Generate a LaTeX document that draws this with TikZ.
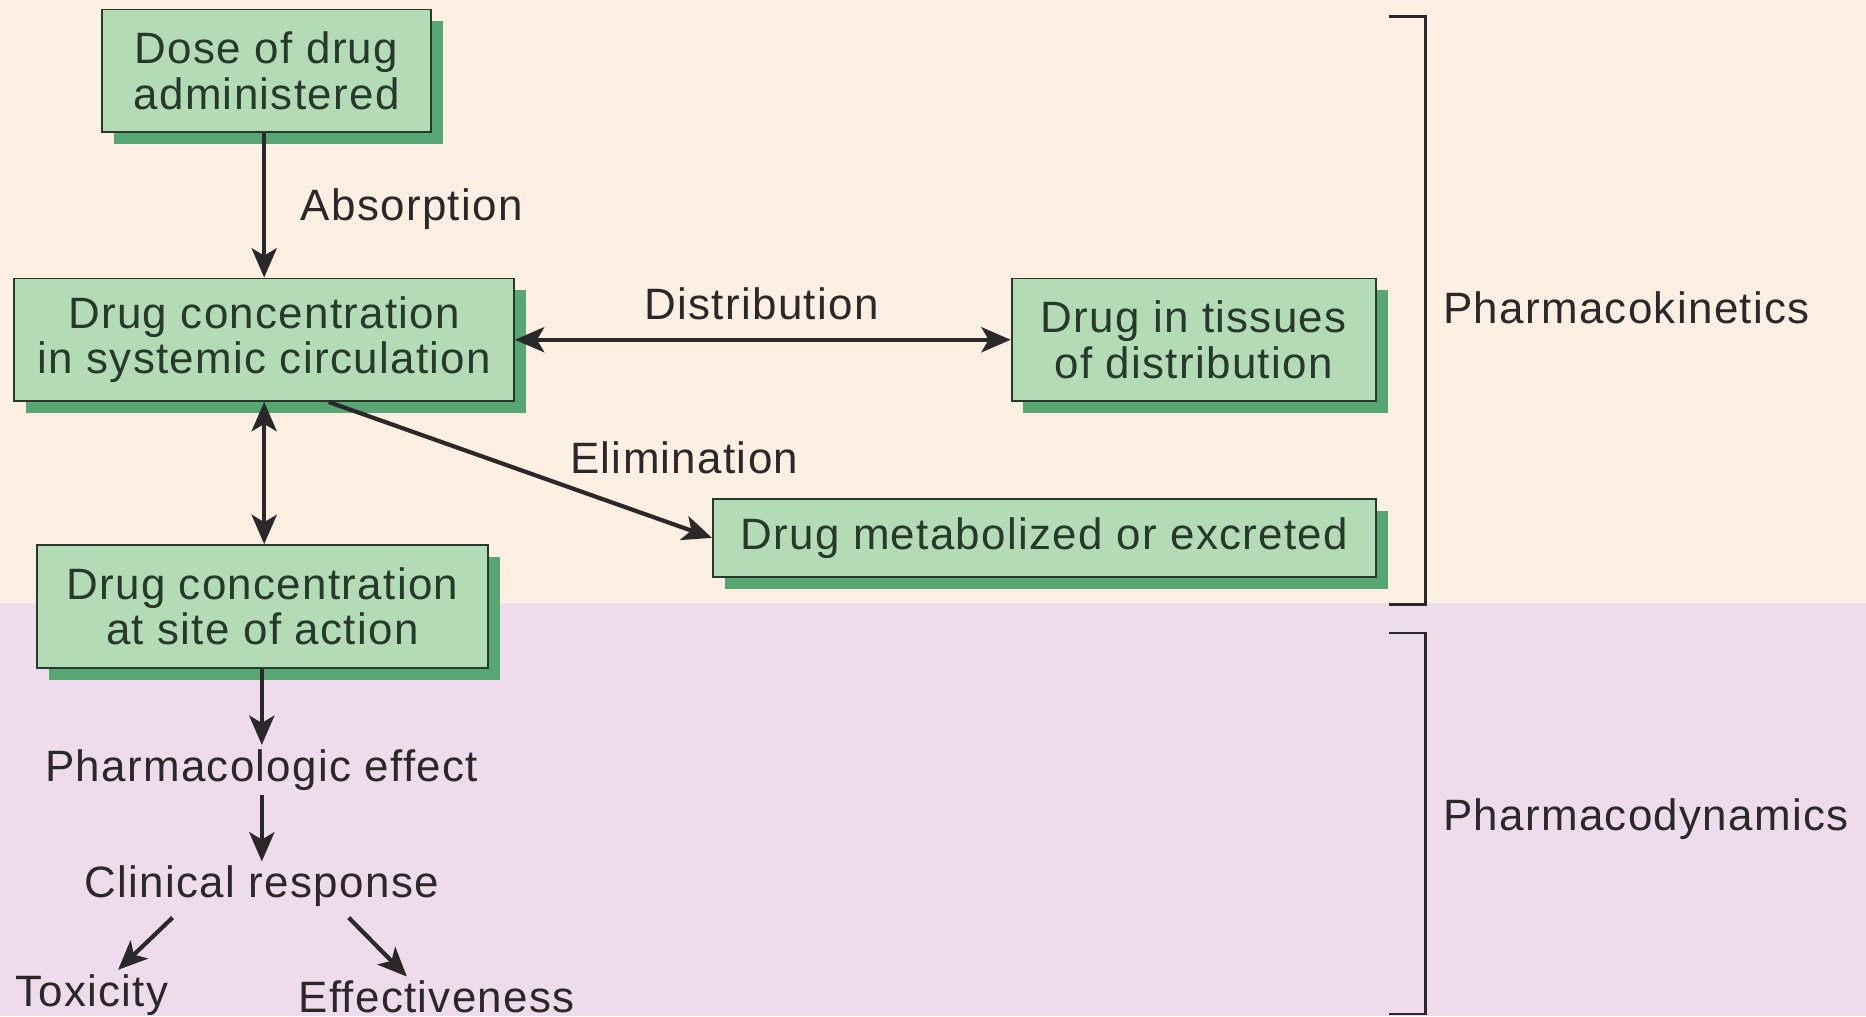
\documentclass[tikz,border=0pt]{standalone}
\usepackage{fontspec}
\setmainfont[LetterSpace=3]{Liberation Sans}
\usetikzlibrary{arrows.meta,shadows}

\definecolor{peach}{HTML}{FDEFE1}
\definecolor{lilac}{HTML}{EEDCEC}
\definecolor{boxgreen}{HTML}{B3DCB6}
\definecolor{shadowgreen}{HTML}{57A674}
\definecolor{edgegreen}{HTML}{27392B}
\definecolor{inkgray}{HTML}{2A2828}

\newcommand{\diagfont}{\fontsize{21}{21.6}\selectfont}

\tikzset{
  stage/.style={draw=edgegreen, line width=0.9pt, fill=boxgreen, align=center,
    inner sep=0pt, text=edgegreen, font=\diagfont,
    general shadow={fill=shadowgreen, shadow xshift=0.2cm, shadow yshift=-0.2cm}},
  lbl/.style={text=inkgray, font=\diagfont, inner sep=2pt},
  flow/.style={-{Stealth[length=14pt,width=12pt,inset=3.5pt]}, line width=2pt, draw=inkgray},
  twoway/.style={{Stealth[length=14pt,width=12pt,inset=3.5pt]}-{Stealth[length=14pt,width=12pt,inset=3.5pt]},
    line width=2pt, draw=inkgray},
  brace/.style={line width=1.2pt, draw=inkgray}
}

\begin{document}
\begin{tikzpicture}[x=0.02cm,y=-0.02cm]
\useasboundingbox (0,0) rectangle (1568,854);
\fill[peach] (0,0) rectangle (1568,507);
\fill[lilac] (0,507) rectangle (1568,854);

% boxes
\node[stage, minimum width=5.52cm, minimum height=2.06cm] (dose) at (224,59.5) {Dose of drug\\administered};
\node[stage, minimum width=8.4cm, minimum height=2.06cm] (sys) at (222,285.5) {Drug concentration\\in systemic circulation};
\node[stage, minimum width=6.12cm, minimum height=2.06cm] (tissue) at (1003,285.5) {Drug in tissues\\of distribution};
\node[stage, minimum width=11.14cm, minimum height=1.32cm] (metab) at (877.5,452) {Drug metabolized or excreted};
\node[stage, minimum width=7.58cm, minimum height=2.06cm] (site) at (220.5,509.5) {Drug concentration\\at site of action};

% plain texts
\node[lbl] (effect) at (220,647) {Pharmacologic effect};
\node[lbl] (clin) at (220,745) {Clinical response};
\node[lbl, anchor=west] (tox) at (9,836) {Toxicity};
\node[lbl, anchor=west] (eff) at (247,838) {Effectiveness};

% arrow labels
\node[lbl, anchor=west] (absorb) at (249,176) {Absorption};
\node[lbl] (distrib) at (640,255) {Distribution};
\node[lbl] (elim) at (575,385) {Elimination};

% arrows
\draw[flow] (dose.south -| sys.north) -- (sys.north);
\draw[twoway] (sys.east) -- (tissue.west);
\draw[flow] (sys.-44) -- (metab.west);
\draw[twoway] (sys.south) -- (sys.south |- site.north);
\draw[flow] (site.south -| effect.north) -- (effect.north);
\draw[flow] (effect.south) -- (clin.north);
\draw[flow] ([xshift=-1.5cm,yshift=-0.1cm]clin.south) -- ([xshift=0.44cm]tox.north);
\draw[flow] ([xshift=1.46cm,yshift=-0.1cm]clin.south) -- ([xshift=-0.5cm]eff.north);

% brackets
\draw[brace] (1167,14) -- (1198,14) -- (1198,508) -- (1167,508);
\draw[brace] (1167,532) -- (1198,532) -- (1198,852) -- (1167,852);
\node[lbl, anchor=west] (kinetics) at (1209,259) {Pharmacokinetics};
\node[lbl, anchor=west] (dynamics) at (1209,688) {Pharmacodynamics};
\end{tikzpicture}
\end{document}
